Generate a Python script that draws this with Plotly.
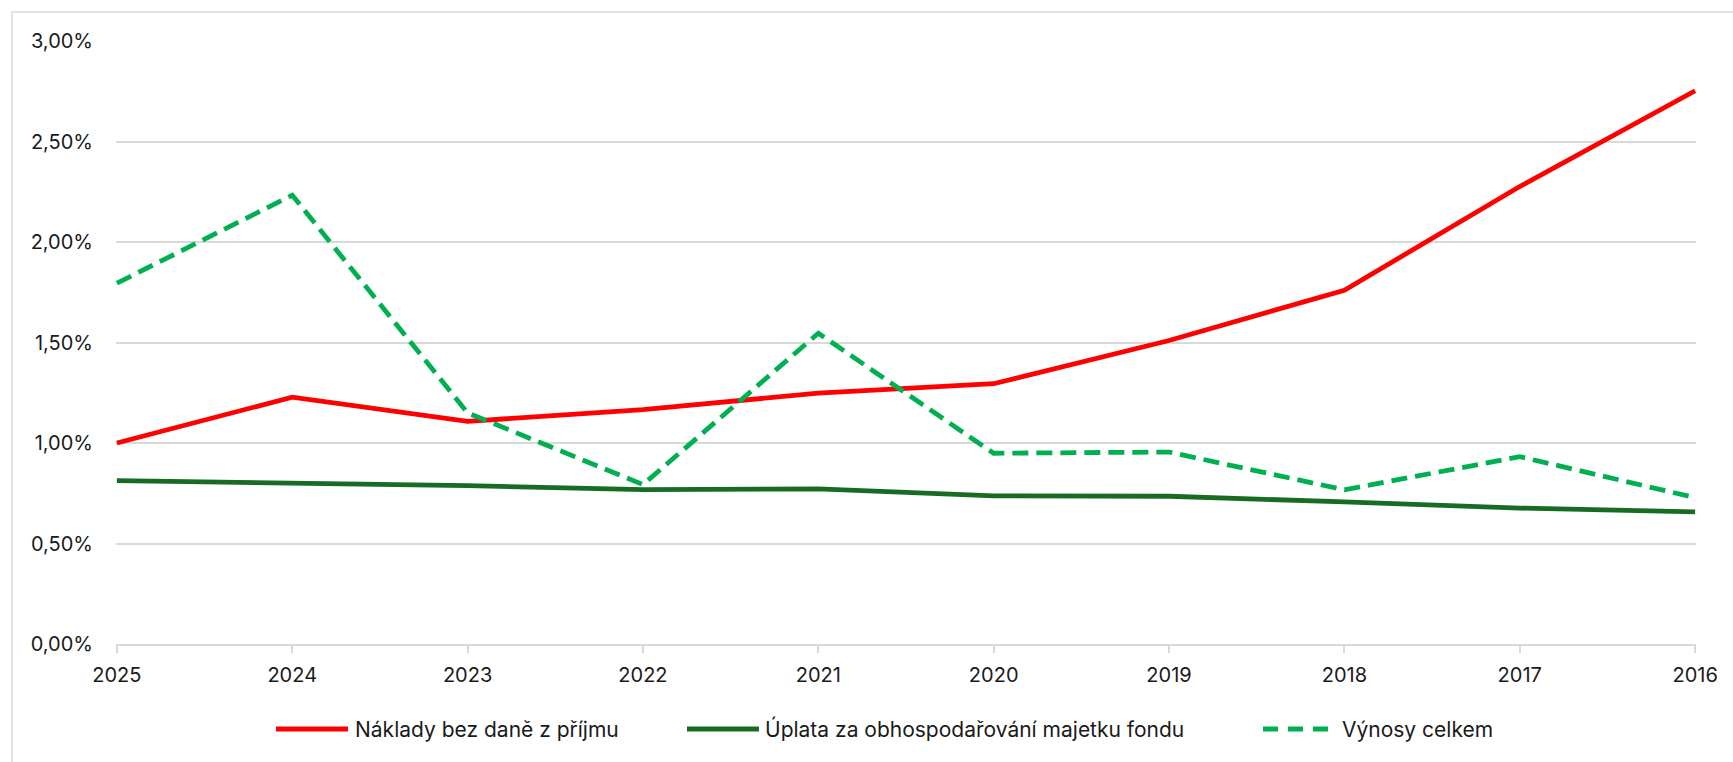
import plotly.graph_objects as go

years = ["2025", "2024", "2023", "2022", "2021", "2020", "2019", "2018", "2017", "2016"]
naklady = [1.00, 1.228, 1.108, 1.166, 1.248, 1.295, 1.51, 1.76, 2.276, 2.752]
uplata = [0.813, 0.801, 0.788, 0.768, 0.772, 0.737, 0.735, 0.707, 0.676, 0.657]
vynosy = [1.795, 2.233, 1.15, 0.793, 1.546, 0.949, 0.955, 0.767, 0.932, 0.728]

names = ["Náklady bez daně z příjmu", "Úplata za obhospodařování majetku fondu", "Výnosy celkem"]
colors = ["#FF0000", "#196B24", "#00B050"]
dashes = ["solid", "solid", "16px,8px"]
series = [naklady, uplata, vynosy]

FONT = "Inter"
W, H = 1733, 762
L, R, T, B = 116, 37, 41, 118

fig = go.Figure()
for name, vals, col, d in zip(names, series, colors, dashes):
    fig.add_trace(go.Scatter(
        x=years, y=[v / 100 for v in vals], name=name, mode="lines",
        line=dict(color=col, width=4.8, dash=d),
        showlegend=False,
    ))

pw = W - L - R
ph = H - T - B

def px(x):
    return (x - L) / pw

def py(y):
    return (H - B - y) / ph

shapes = []
annotations = []
# chart border (cropped on right/bottom)
shapes.append(dict(type="rect", xref="paper", yref="paper",
                   x0=px(12), x1=px(1760), y0=py(790), y1=py(12),
                   line=dict(color="#d9d9d9", width=1.5), fillcolor="rgba(0,0,0,0)", layer="below"))

# manual legend
leg_y = py(729)
leg_items = [(276, 348, 353), (687, 759, 763), (1263, 1328, 1340)]
for (x0, x1, xt), name, col, d in zip(leg_items, names, colors, dashes):
    shapes.append(dict(type="line", xref="paper", yref="paper",
                       x0=px(x0), x1=px(x1), y0=leg_y, y1=leg_y,
                       line=dict(color=col, width=4.8, dash=("15px,10px" if d != "solid" else "solid"))))
    annotations.append(dict(xref="paper", yref="paper", x=px(xt), y=leg_y,
                            text=name, showarrow=False, xanchor="left", yanchor="middle",
                            font=dict(family=FONT, size=21, color="#1a1a1a")))

fig.update_layout(
    width=W, height=H,
    margin=dict(l=L, r=R, t=T, b=B, autoexpand=False),
    paper_bgcolor="white", plot_bgcolor="white",
    separators=", ",
    font=dict(family=FONT, size=20, color="#1a1a1a"),
    shapes=shapes, annotations=annotations,
    xaxis=dict(type="category", range=[-0.005, 9.005], showgrid=False,
               showline=True, linecolor="#d9d9d9", linewidth=1.5,
               ticks="outside", ticklen=7, tickcolor="#d9d9d9", tickwidth=1.5,
               ticklabelstandoff=5, tickfont=dict(family=FONT, size=20, color="#1a1a1a"),
               zeroline=False, fixedrange=True),
    yaxis=dict(range=[0, 0.03], dtick=0.005, tickformat=".2%",
               showgrid=True, gridcolor="#d9d9d9", gridwidth=1.5,
               showline=False, zeroline=False, ticks="",
               ticklabelstandoff=22, tickfont=dict(family=FONT, size=20, color="#1a1a1a")),
)

fig.write_html("out.html", config={"displayModeBar": False},
               post_script="document.body.style.margin='0';document.body.style.overflow='hidden';")
